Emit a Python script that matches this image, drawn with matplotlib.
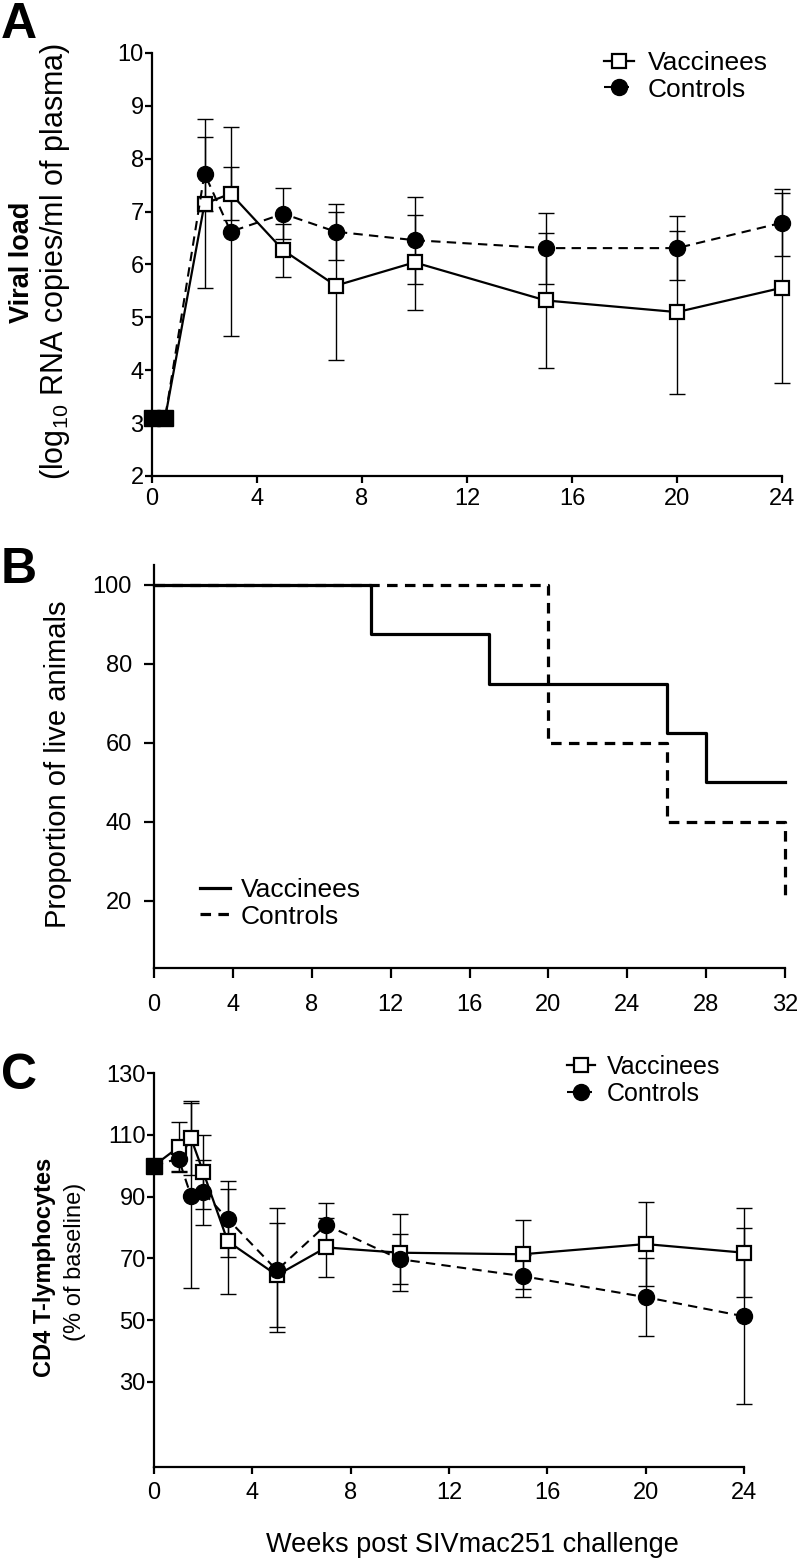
import matplotlib
matplotlib.use('Agg')
import matplotlib.pyplot as plt

plt.rcParams['font.family'] = ['Liberation Sans', 'DejaVu Sans']
plt.rcParams['mathtext.default'] = 'regular'

# Panel A - viral load (log10 RNA copies/ml)
weeks_a = [0, 0.5, 2, 3, 5, 7, 10, 15, 20, 24]
vl_vacc = [3.1, 3.1, 7.15, 7.34, 6.27, 5.6, 6.04, 5.32, 5.1, 5.56]
vl_vacc_sd = [0, 0, 1.6, 0.5, 0.5, 1.4, 0.9, 1.28, 1.54, 1.8]
vl_ctrl = [3.1, 3.1, 7.72, 6.62, 6.96, 6.62, 6.46, 6.31, 6.31, 6.79]
vl_ctrl_sd = [0, 0, 0.7, 1.98, 0.48, 0.53, 0.82, 0.67, 0.6, 0.63]

# Panel B - survival (% live animals)
surv_weeks_vacc = [0, 11, 17, 26, 28, 32]
surv_vacc = [100, 87.5, 75, 62.5, 50, 50]
surv_weeks_ctrl = [0, 20, 26, 32, 32]
surv_ctrl = [100, 60, 40, 40, 20]

# Panel C - CD4 T-lymphocytes (% of baseline)
weeks_c = [0, 1, 1.5, 2, 3, 5, 7, 10, 15, 20, 24]
cd4_vacc = [100, 106, 109, 98, 75.5, 64.5, 73.5, 71.8, 71.3, 74.6, 71.8]
cd4_vacc_sd = [0, 8, 12, 12, 17, 16.8, 9.6, 12.5, 11.1, 13.6, 14.4]
cd4_ctrl = [100, 102.3, 90.3, 91.4, 82.7, 66.1, 80.8, 69.7, 64.2, 57.4, 51.2]
cd4_ctrl_sd = [0, 4, 30, 10.5, 12.2, 20.1, 7, 8.15, 6.7, 12.7, 28.5]

labels = ['Vaccinees', 'Controls']
W, H = 800, 1562


def fx(px):
    return px / W


def fy(py):
    return 1 - py / H


def style(ax, xpad, ypad, ticklen=5):
    for s in ['top', 'right']:
        ax.spines[s].set_visible(False)
    for s in ['left', 'bottom']:
        ax.spines[s].set_linewidth(1.6)
    ax.tick_params(direction='out', width=1.6, length=ticklen, labelsize=17)
    ax.tick_params(axis='x', pad=xpad)
    ax.tick_params(axis='y', pad=ypad)


def draw_series(ax, x, vac, vac_sd, ctl, ctl_sd, nbase):
    for vals, sd in [(vac, vac_sd), (ctl, ctl_sd)]:
        ax.errorbar(x[nbase:], vals[nbase:], yerr=sd[nbase:], fmt='none',
                    ecolor='black', elinewidth=1, capsize=6, capthick=1,
                    clip_on=False)
    lv, = ax.plot(x, vac, color='black', lw=1.6, marker='s', ms=10.5,
                  mfc='white', mec='black', mew=1.6,
                  markevery=list(range(nbase, len(x))), clip_on=False,
                  zorder=3)
    lc, = ax.plot(x, ctl, color='black', lw=1.5, ls=(0, (4.5, 3)),
                  marker='o', ms=11.5, mfc='black', mec='black',
                  markevery=list(range(nbase, len(x))), clip_on=False,
                  zorder=4)
    # baseline points drawn filled
    ax.plot(x[:nbase], vac[:nbase], ls='none', marker='s', ms=11,
            mfc='black', mec='black', clip_on=False, zorder=5)
    return lv, lc


fig = plt.figure(figsize=(8, 15.62), dpi=100)

# ---------- A ----------
ax_a = fig.add_axes([fx(152), fy(476), fx(782 - 152), (476 - 53) / H])
lv, lc = draw_series(ax_a, weeks_a, vl_vacc, vl_vacc_sd, vl_ctrl, vl_ctrl_sd, 2)
ax_a.set_xlim(0, 24)
ax_a.set_ylim(2, 10)
ax_a.set_xticks(range(0, 25, 4))
ax_a.set_yticks(range(2, 11))
style(ax_a, 4, 1)
ax_a.legend([lv, lc], labels, loc='upper left',
            bbox_to_anchor=(fx(604), fy(51)), bbox_transform=fig.transFigure,
            frameon=False, fontsize=19, handlelength=1.15, handletextpad=0.5,
            labelspacing=0.1, borderpad=0, borderaxespad=0, numpoints=1)

fig.text(fx(22), fy(262), 'Viral load', rotation=90, fontsize=19.5,
         fontweight='bold', ha='center', va='center')
fig.text(fx(55), fy(262), '(log$_{10}$ RNA copies/ml of plasma)', rotation=90,
         fontsize=22, ha='center', va='center')

# ---------- B ----------
ax_b = fig.add_axes([fx(154), fy(968), fx(785 - 154), (968 - 565) / H])
sv, = ax_b.plot(surv_weeks_vacc, surv_vacc, drawstyle='steps-post',
                color='black', lw=2.3, clip_on=False)
sc, = ax_b.plot(surv_weeks_ctrl, surv_ctrl, drawstyle='steps-post',
                color='black', lw=2.3, ls=(0, (3.3, 2.3)), clip_on=False,
                zorder=1.9)
ax_b.set_xlim(0, 32)
ax_b.set_ylim(3, 105)
ax_b.set_xticks(range(0, 33, 4))
ax_b.set_yticks(range(20, 101, 20))
style(ax_b, 12, 9, ticklen=7)
ax_b.legend([sv, sc], labels, loc='upper left',
            bbox_to_anchor=(fx(200), fy(878)), bbox_transform=fig.transFigure,
            frameon=False, fontsize=19, handlelength=1.15, handletextpad=0.4,
            labelspacing=0.1, borderpad=0, borderaxespad=0)

fig.text(fx(58), fy(764), 'Proportion of live animals', rotation=90,
         fontsize=21, ha='center', va='center')

# ---------- C ----------
ax_c = fig.add_axes([fx(154), fy(1467), fx(744 - 154), (1467 - 1073) / H])
lv2, lc2 = draw_series(ax_c, weeks_c, cd4_vacc, cd4_vacc_sd, cd4_ctrl,
                       cd4_ctrl_sd, 1)
ax_c.set_xlim(0, 24)
ax_c.set_ylim(2.4, 130)
ax_c.set_xticks(range(0, 25, 4))
ax_c.set_yticks(range(30, 131, 20))
style(ax_c, 6, 1)
ax_c.legend([lv2, lc2], labels, loc='upper left',
            bbox_to_anchor=(fx(567), fy(1055)), bbox_transform=fig.transFigure,
            frameon=False, fontsize=18, handlelength=1.1,
            handletextpad=0.5, labelspacing=0.12, borderpad=0,
            borderaxespad=0, numpoints=1)

fig.text(fx(45), fy(1267), 'CD4 T-lymphocytes', rotation=90, fontsize=17,
         fontweight='bold', ha='center', va='center')
fig.text(fx(75), fy(1262), '(% of baseline)', rotation=90, fontsize=17,
         ha='center', va='center')

fig.text(fx(472), fy(1545), 'Weeks post SIVmac251 challenge', fontsize=19.5,
         ha='center', va='center')

# panel letters
for letter, base in [('A', 38), ('B', 583), ('C', 1089)]:
    fig.text(fx(1), fy(base), letter, fontsize=36, fontweight='bold',
             ha='left', va='baseline')

fig.savefig('out.png', dpi=100)
